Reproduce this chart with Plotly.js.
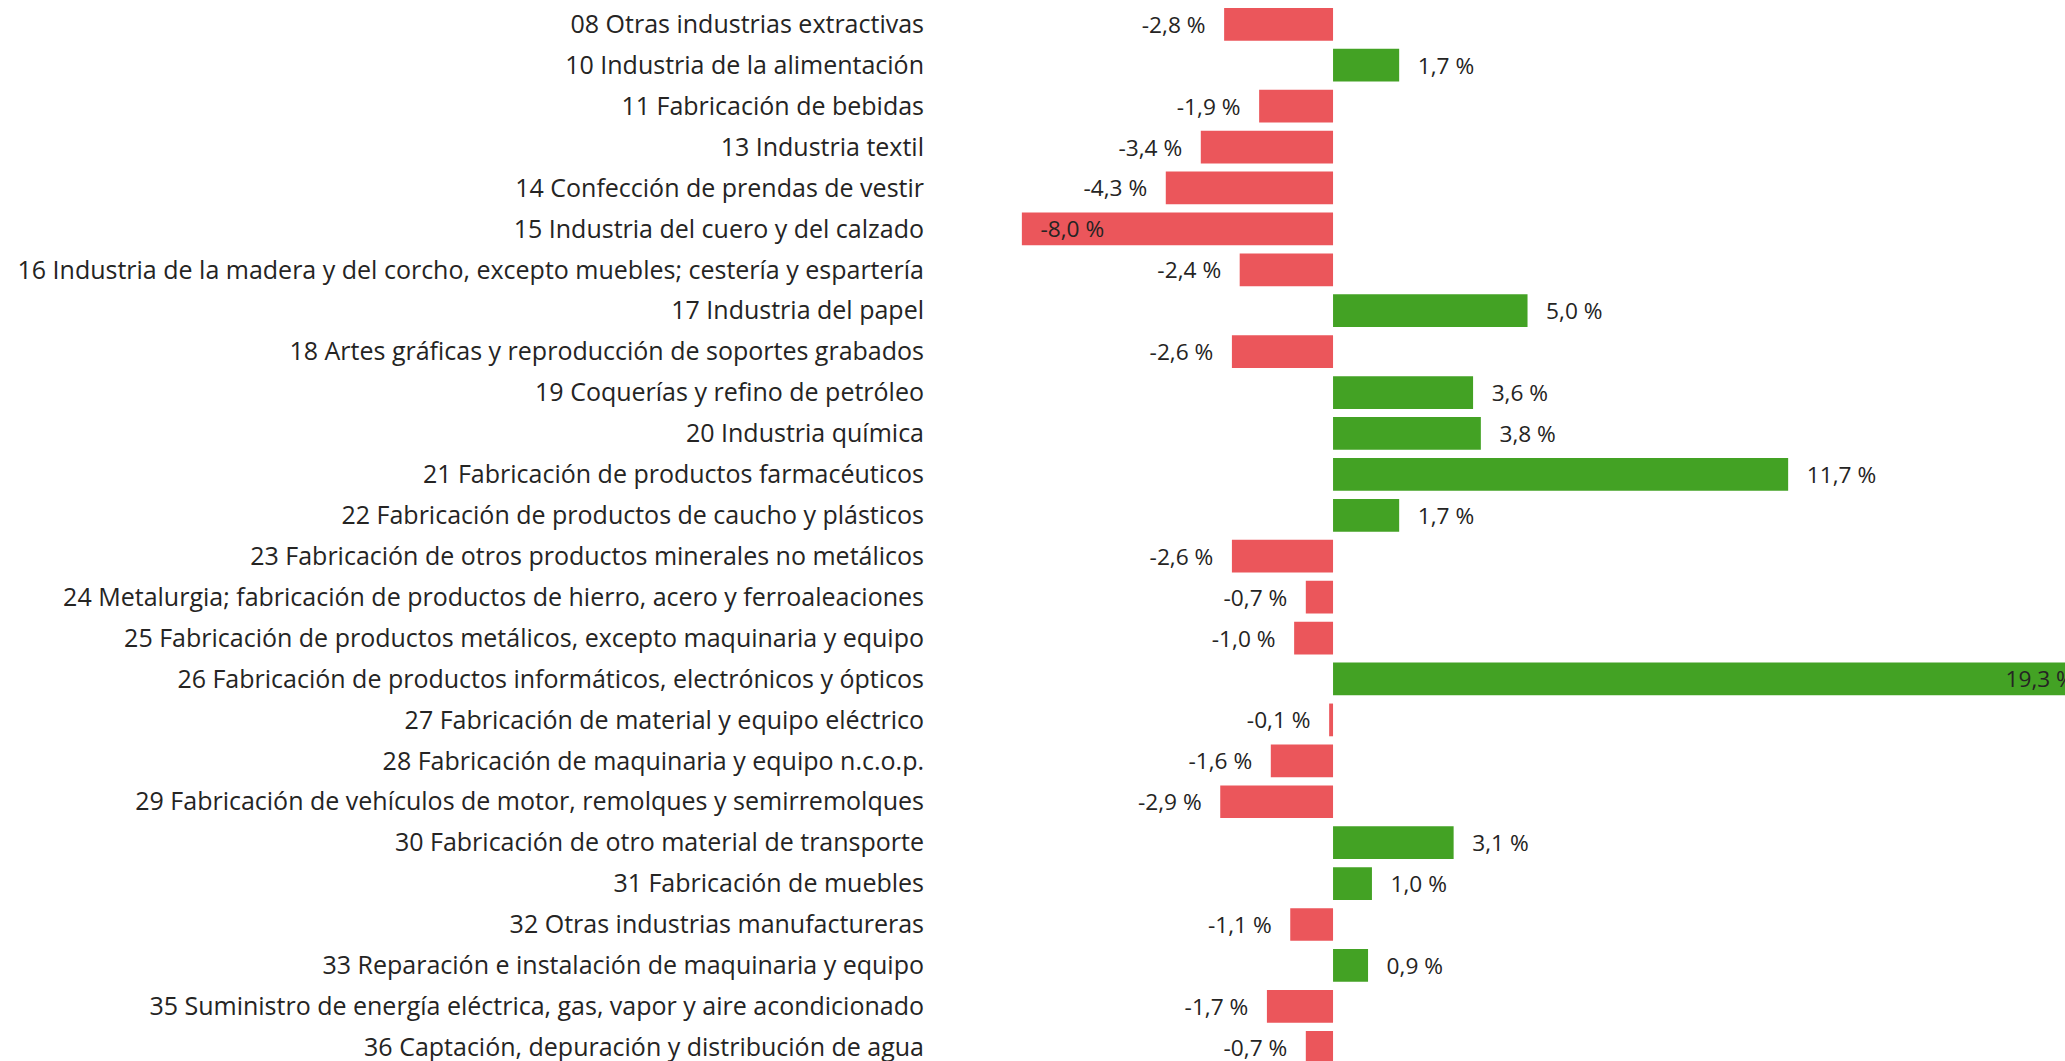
<!DOCTYPE html>
<html>
<head>
<meta charset="utf-8">
<script src="https://cdn.plot.ly/plotly-3.0.1.min.js"></script>
<style>
  html, body { margin: 0; padding: 0; background: #ffffff; overflow: hidden; width: 2065px; height: 1061px; }
  #chart { width: 2090px; height: 1061px; }
</style>
</head>
<body>
<div id="chart"></div>
<script>
const categories = [
  "08 Otras industrias extractivas",
  "10 Industria de la alimentación",
  "11 Fabricación de bebidas",
  "13 Industria textil",
  "14 Confección de prendas de vestir",
  "15 Industria del cuero y del calzado",
  "16 Industria de la madera y del corcho, excepto muebles; cestería y espartería",
  "17 Industria del papel",
  "18 Artes gráficas y reproducción de soportes grabados",
  "19 Coquerías y refino de petróleo",
  "20 Industria química",
  "21 Fabricación de productos farmacéuticos",
  "22 Fabricación de productos de caucho y plásticos",
  "23 Fabricación de otros productos minerales no metálicos",
  "24 Metalurgia; fabricación de productos de hierro, acero y ferroaleaciones",
  "25 Fabricación de productos metálicos, excepto maquinaria y equipo",
  "26 Fabricación de productos informáticos, electrónicos y ópticos",
  "27 Fabricación de material y equipo eléctrico",
  "28 Fabricación de maquinaria y equipo n.c.o.p.",
  "29 Fabricación de vehículos de motor, remolques y semirremolques",
  "30 Fabricación de otro material de transporte",
  "31 Fabricación de muebles",
  "32 Otras industrias manufactureras",
  "33 Reparación e instalación de maquinaria y equipo",
  "35 Suministro de energía eléctrica, gas, vapor y aire acondicionado",
  "36 Captación, depuración y distribución de agua"
];

const values = [
  -2.8, 1.7, -1.9, -3.4, -4.3, -8.0, -2.4, 5.0, -2.6, 3.6, 3.8, 11.7, 1.7,
  -2.6, -0.7, -1.0, 19.3, -0.1, -1.6, -2.9, 3.1, 1.0, -1.1, 0.9, -1.7, -0.7
];

const POS_COLOR = "#43A224";
const NEG_COLOR = "#EB565B";
const PAD = "\u00a0\u00a0\u2009";

const vMin = Math.min(...values);
const vMax = Math.max(...values);
const positions = values.map(v => (v === vMin || v === vMax) ? "inside" : "outside");
const fmt = v => v.toFixed(1).replace(".", ",") + " %";
const texts = values.map((v, i) => {
  const t = fmt(v);
  const inside = positions[i] === "inside";
  if (v < 0) return inside ? PAD + t : t + PAD;
  return inside ? t + "\u00a0" : PAD + t;
});

const LABEL_FONT = { family: "Open Sans, sans-serif", size: 22.7, color: "#252423" };

const trace = {
  type: "bar",
  orientation: "h",
  y: categories,
  x: values,
  marker: { color: values.map(v => v < 0 ? NEG_COLOR : POS_COLOR), line: { width: 0 } },
  text: texts,
  textposition: positions,
  insidetextanchor: "end",
  textangle: 0,
  constraintext: "none",
  cliponaxis: false,
  textfont: LABEL_FONT,
  insidetextfont: LABEL_FONT,
  outsidetextfont: LABEL_FONT,
  hoverinfo: "skip"
};

const layout = {
  width: 2090,
  height: 1061,
  margin: { l: 925, r: 0, t: 0, b: 0, pad: 0 },
  paper_bgcolor: "#ffffff",
  plot_bgcolor: "#ffffff",
  bargap: 0.2,
  showlegend: false,
  font: { family: "Open Sans, sans-serif", color: "#252423" },
  xaxis: {
    range: [-10.49, 19.46],
    showgrid: false,
    zeroline: false,
    showticklabels: false,
    ticks: "",
    showline: false,
    fixedrange: true
  },
  yaxis: {
    type: "category",
    range: [25.336, -0.594],
    autorange: false,
    showgrid: false,
    zeroline: false,
    showline: false,
    ticks: "",
    automargin: false,
    tickfont: { family: "Open Sans, sans-serif", size: 25, color: "#252423" },
    fixedrange: true
  }
};

Plotly.newPlot("chart", [trace], layout, { displayModeBar: false, staticPlot: true });
</script>
</body>
</html>
